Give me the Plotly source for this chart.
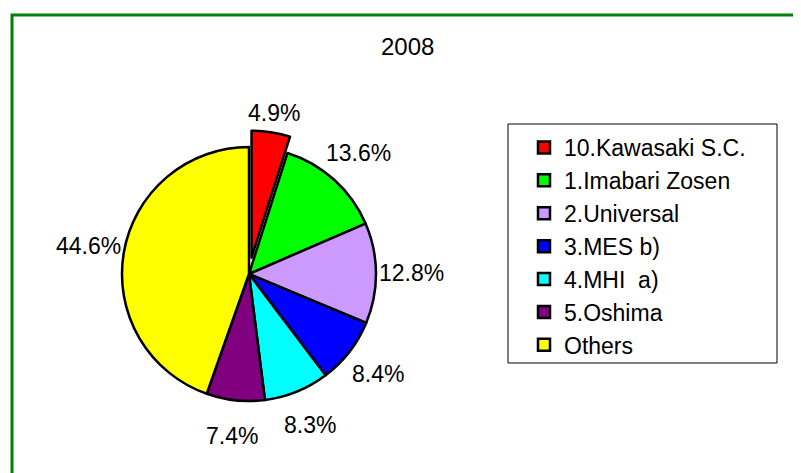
import math
import plotly.graph_objects as go

# ---- data ----
title_text = "2008"
labels = ["10.Kawasaki S.C.", "1.Imabari Zosen", "2.Universal", "3.MES b)",
          "4.MHI  a)", "5.Oshima", "Others"]
values = [4.9, 13.6, 12.8, 8.4, 8.3, 7.4, 44.6]
colors = ["#FF0000", "#00FF00", "#CC99FF", "#0000FF", "#00FFFF", "#800080", "#FFFF00"]
pulls = [0.13, 0, 0, 0, 0, 0, 0]

W, H = 801, 473
OFF = 8  # page body margin offset
# pie placement (pixels in the screenshot)
CX, CY, R = 249 - OFF, 274 - OFF, 127
D = 2 * R * (1 + max(pulls))
LABEL_R = 163


def px_x(x):
    return (x - OFF) / W


def px_y(y):
    return 1 - (y - OFF) / H


fig = go.Figure()
fig.add_trace(go.Pie(
    labels=labels, values=values, sort=False, direction="clockwise", rotation=0,
    pull=pulls, textinfo="none", hoverinfo="label+value",
    marker=dict(colors=colors, line=dict(color="black", width=2.5)),
    domain=dict(x=[(CX - D / 2) / W, (CX + D / 2) / W],
                y=[1 - (CY + D / 2) / H, 1 - (CY - D / 2) / H]),
    showlegend=True,
))

# percentage labels placed around the pie from the data
total = sum(values)
cum = 0
annotations = []
for v in values:
    mid = (cum + v / 2) / total * 2 * math.pi
    cum += v
    px = CX + LABEL_R * math.sin(mid)
    py = CY - LABEL_R * math.cos(mid)
    annotations.append(dict(
        x=px / W, y=1 - py / H, xref="paper", yref="paper",
        text=f"{v:.1f}%", showarrow=False, xanchor="center", yanchor="middle",
        font=dict(family="Liberation Sans Narrow, Arial Narrow, Liberation Sans, Arial",
                  size=23, color="black"),
    ))

annotations.append(dict(
    x=px_x(407), y=px_y(46), xref="paper", yref="paper", text=title_text,
    showarrow=False, xanchor="center", yanchor="middle",
    font=dict(family="Liberation Sans, Arial", size=24, color="black"),
))

shapes = [
    # outer green frame
    dict(type="rect", xref="paper", yref="paper",
         x0=px_x(12), x1=1.05, y0=-0.05, y1=px_y(15),
         line=dict(color="#008000", width=3)),
    # legend frame
    dict(type="rect", xref="paper", yref="paper",
         x0=px_x(508), x1=px_x(777), y0=px_y(363), y1=px_y(124),
         line=dict(color="black", width=1)),
]

fig.update_layout(
    width=W, height=H,
    margin=dict(l=0, r=0, t=0, b=0),
    paper_bgcolor="white", plot_bgcolor="white",
    annotations=annotations, shapes=shapes,
    legend=dict(x=px_x(524), y=px_y(126), xanchor="left", yanchor="top",
                font=dict(family="Liberation Sans, Arial", size=23, color="black"),
                bgcolor="rgba(0,0,0,0)", borderwidth=0),
)

fig.write_html("out.html")
